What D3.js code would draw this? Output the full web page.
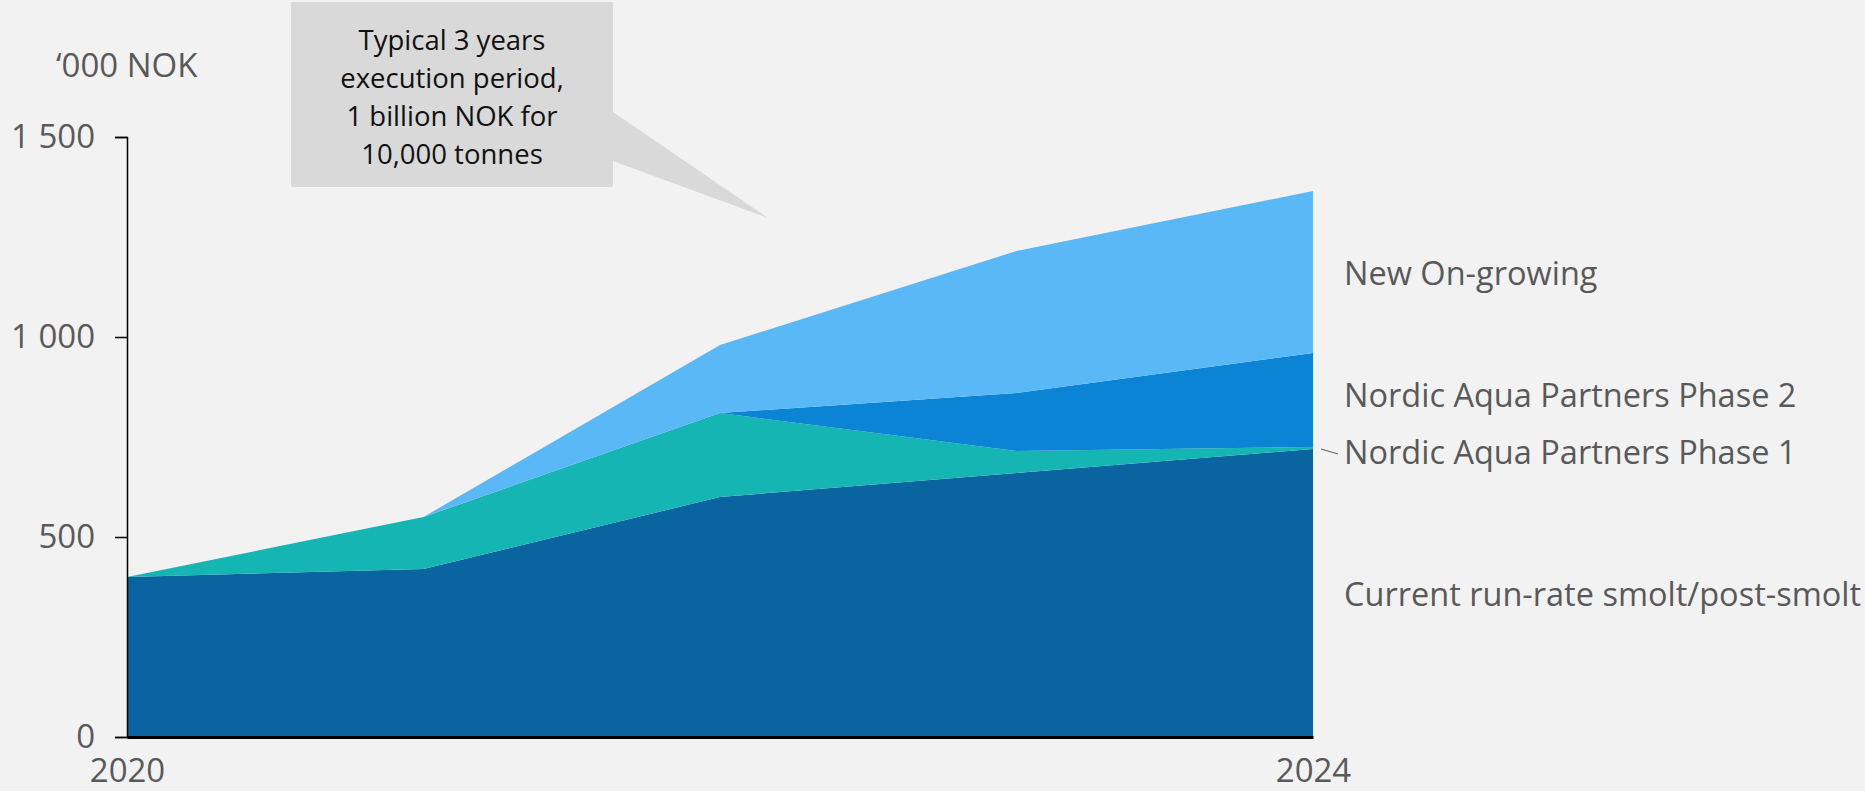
<!DOCTYPE html>
<html>
<head>
<meta charset="utf-8">
<script src="https://cdn.jsdelivr.net/npm/d3@7"></script>
<style>
  html, body { margin: 0; padding: 0; background: #f2f2f2; }
  svg { display: block; font-family: "Open Sans", sans-serif; }
</style>
</head>
<body>
<svg id="chart"></svg>
<script>
// data, '000 NOK per year
var years = [2020, 2021, 2022, 2023, 2024];
var current = [400, 420, 600, 660, 720];
var phase1 = [0, 130, 210, 55, 5];
var phase2 = [0, 0, 0, 145, 235];
var newOnGrowing = [0, 0, 170, 355, 405];
var yTicks = [0, 500, 1000, 1500];
var xTickLabels = [2020, 2024];

var seriesKeys = ["current", "phase1", "phase2", "newOnGrowing"];
var seriesNames = ["Current run-rate smolt/post-smolt", "Nordic Aqua Partners Phase 1",
                   "Nordic Aqua Partners Phase 2", "New On-growing"];
var colors = ["#0964a0", "#15b5b4", "#0b84d5", "#5ab8f6"];

var width = 1865, height = 791;

var svg = d3.select("#chart")
  .attr("width", width)
  .attr("height", height);

// build rows for the stack
var rows = years.map(function(y, i) {
  return {year: y, current: current[i], phase1: phase1[i], phase2: phase2[i], newOnGrowing: newOnGrowing[i]};
});

var x = d3.scaleLinear().domain([2020, 2024]).range([127, 1313]);
var y = d3.scaleLinear().domain([0, 1500]).range([737, 137]);

var stack = d3.stack().keys(seriesKeys);
var layers = stack(rows);

var area = d3.area()
  .x(function(d) { return x(d.data.year); })
  .y0(function(d) { return y(d[0]); })
  .y1(function(d) { return y(d[1]); });

svg.selectAll(".layer")
  .data(layers)
  .enter().append("path")
  .attr("class", "layer")
  .attr("fill", function(d, i) { return colors[i]; })
  .attr("d", area);

// y axis
var yAxis = svg.append("g")
  .attr("transform", "translate(" + x(2020) + ",0)")
  .call(d3.axisLeft(y).tickValues(yTicks).tickSize(12).tickPadding(20)
    .tickFormat(function(d) { return d3.format(",")(d).replace(",", " "); }));
yAxis.select(".domain").attr("stroke", "#000").attr("stroke-width", 1.5);
yAxis.selectAll(".tick line").attr("stroke", "#000").attr("stroke-width", 1.5);
yAxis.selectAll(".tick text")
  .attr("fill", "#595959")
  .style("font-size", "33px")
  .style("font-family", "'Open Sans', sans-serif");

// x axis
var xAxis = svg.append("g")
  .attr("transform", "translate(0," + y(0) + ")")
  .call(d3.axisBottom(x).tickValues(xTickLabels).tickSize(0).tickPadding(22)
    .tickFormat(d3.format("d")));
xAxis.select(".domain").attr("stroke", "#000").attr("stroke-width", 3);
xAxis.selectAll(".tick text")
  .attr("fill", "#595959")
  .style("font-size", "33px")
  .style("font-family", "'Open Sans', sans-serif");

// unit label
svg.append("text")
  .attr("x", 56)
  .attr("y", 77)
  .attr("fill", "#595959")
  .style("font-size", "33px")
  .text("\u2018000 NOK");

// series labels on the right
var labelY = [595, 453, 396, 274];
svg.selectAll(".series-label")
  .data(seriesNames)
  .enter().append("text")
  .attr("class", "series-label")
  .attr("x", 1344)
  .attr("y", function(d, i) { return labelY[i]; })
  .attr("dy", "0.35em")
  .attr("fill", "#595959")
  .style("font-size", "32.5px")
  .text(function(d) { return d; });

// small leader line for phase 1
svg.append("line")
  .attr("x1", x(2024) + 8).attr("y1", 449)
  .attr("x2", 1338).attr("y2", 454)
  .attr("stroke", "#595959").attr("stroke-width", 1);

// callout box
var callout = svg.append("g");
callout.append("path")
  .attr("d", "M613,112 L768,218 L613,161 Z")
  .attr("fill", "#d9d9d9");
callout.append("rect")
  .attr("x", 291).attr("y", 2)
  .attr("width", 322).attr("height", 185)
  .attr("fill", "#d9d9d9");

var calloutLines = ["Typical 3 years", "execution period,", "1 billion NOK for", "10,000 tonnes"];
callout.selectAll("text")
  .data(calloutLines)
  .enter().append("text")
  .attr("x", 452)
  .attr("y", function(d, i) { return 40 + i * 38; })
  .attr("dy", "0.35em")
  .attr("text-anchor", "middle")
  .attr("fill", "#111")
  .style("font-size", "27.5px")
  .text(function(d) { return d; });
</script>
</body>
</html>
